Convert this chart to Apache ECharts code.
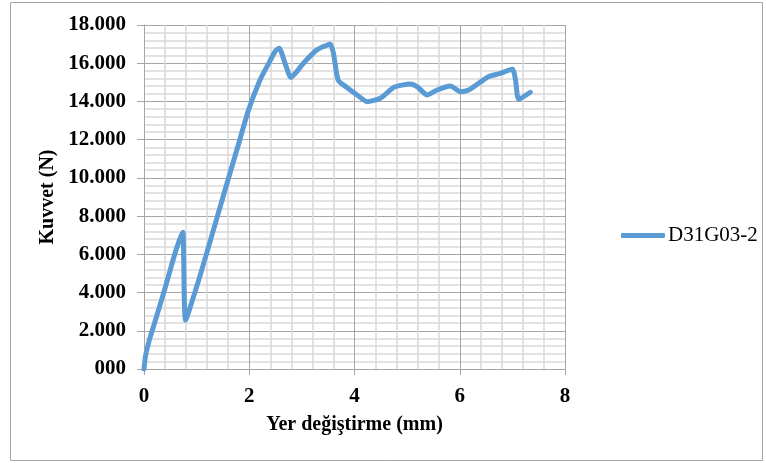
<!DOCTYPE html>
<html>
<head>
<meta charset="utf-8">
<script src="https://cdn.jsdelivr.net/npm/echarts@6/dist/echarts.min.js"></script>
<style>
html,body{margin:0;padding:0;background:#fff;}
#chart{width:766px;height:463px;}
</style>
</head>
<body>
<div id="chart"></div>
<script>
var seriesName = 'D31G03-2';
var displacement = [0, 0.03, 0.1, 0.2, 0.39, 0.58, 0.68, 0.74, 0.79, 1.0, 1.19, 1.54, 1.8, 1.98, 2.2, 2.39, 2.5, 2.57, 2.68, 2.79, 2.9, 3.03, 3.28, 3.41, 3.54, 3.6, 3.69, 3.85, 4.05, 4.24, 4.49, 4.75, 5.06, 5.2, 5.38, 5.57, 5.82, 6.01, 6.17, 6.36, 6.55, 6.74, 7.0, 7.06, 7.12, 7.34];
var force = [0, 700, 1500, 2400, 4130, 5970, 6800, 7150, 2560, 4300, 6050, 9370, 11800, 13500, 15100, 16100, 16650, 16780, 16000, 15250, 15550, 16000, 16690, 16870, 17010, 16520, 15120, 14740, 14340, 13990, 14170, 14740, 14910, 14750, 14340, 14600, 14810, 14510, 14600, 14950, 15300, 15440, 15680, 15120, 14110, 14480];
var xTicks = ['0', '2', '4', '6', '8'];
var xTitle = 'Yer değiştirme (mm)';
var yTitle = 'Kuvvet (N)';

var points = displacement.map(function (d, i) { return [d, force[i]]; });
var serif = '"Liberation Serif", "Times New Roman", serif';
var chart = echarts.init(document.getElementById('chart'));
chart.setOption({
  animation: false,
  backgroundColor: '#fff',
  graphic: [{
    type: 'rect', shape: {x: 10.5, y: 2.5, width: 752, height: 458},
    style: {fill: 'none', stroke: '#a6a6a6', lineWidth: 1}, z: -1
  }],
  grid: {left: 144, right: 201, top: 25, bottom: 94, containLabel: false},
  legend: {
    data: [{name: seriesName, icon: 'roundRect'}], left: 616, top: 220,
    itemWidth: 44, itemHeight: 5, itemGap: 0,
    itemStyle: {color: '#5b9bd5', borderWidth: 0},
    textStyle: {fontFamily: serif, fontSize: 21, color: '#000', padding: [0, 0, 0, -2]}
  },
  xAxis: {
    type: 'value', min: 0, max: 8, interval: 2,
    name: xTitle, nameLocation: 'middle', nameGap: 46,
    nameTextStyle: {fontFamily: serif, fontSize: 20, fontWeight: 'bold', color: '#000'},
    axisLine: {show: true, onZero: false, lineStyle: {color: '#a6a6a6', width: 1}},
    axisTick: {show: true, length: 6, lineStyle: {color: '#a6a6a6'}},
    axisLabel: {fontFamily: serif, fontSize: 21, fontWeight: 'bold', color: '#000', margin: 17,
      formatter: function (v) { return xTicks[Math.round(v / 2)]; }},
    splitLine: {show: true, lineStyle: {color: '#a6a6a6', width: 1}},
    minorTick: {show: false, splitNumber: 5},
    minorSplitLine: {show: true, lineStyle: {color: '#d9d9d9', width: 1.5}}
  },
  yAxis: {
    type: 'value', min: 0, max: 18000, interval: 2000,
    name: yTitle, nameLocation: 'middle', nameGap: 86, nameRotate: 90,
    nameTextStyle: {fontFamily: serif, fontSize: 20, fontWeight: 'bold', color: '#000'},
    axisLine: {show: true, lineStyle: {color: '#a6a6a6', width: 1}},
    axisTick: {show: true, length: 7, lineStyle: {color: '#a6a6a6'}},
    axisLabel: {fontFamily: serif, fontSize: 21, fontWeight: 'bold', color: '#000', margin: 18,
      formatter: function (v) { return v === 0 ? '000' : (v / 1000).toFixed(3); }},
    splitLine: {show: true, lineStyle: {color: '#a6a6a6', width: 1}},
    minorTick: {show: false, splitNumber: 5},
    minorSplitLine: {show: true, lineStyle: {color: '#d9d9d9', width: 1.5}}
  },
  series: [{
    name: seriesName, type: 'line', data: points, symbol: 'none',
    smooth: 0.2, lineStyle: {color: '#5b9bd5', width: 5, cap: 'round', join: 'round'},
    itemStyle: {color: '#5b9bd5'}
  }]
});
</script>
</body>
</html>
